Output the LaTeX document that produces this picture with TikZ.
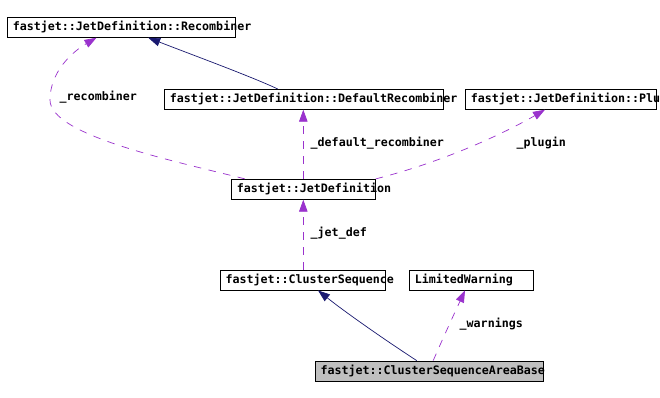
\documentclass[tikz,border=0pt]{standalone}
\usepackage{fontspec}
\setmonofont{DejaVu Sans Mono}
\usetikzlibrary{arrows.meta,calc}
\definecolor{inh}{HTML}{191970}
\definecolor{use}{HTML}{9A32CD}
\definecolor{boxgray}{HTML}{BFBFBF}
\begin{document}
\begin{tikzpicture}[x=1pt,y=-1pt,
  every node/.style={font=\fontsize{11.65}{13}\selectfont\ttfamily\bfseries},
  cls/.style={draw=black,line width=0.8pt,inner xsep=5.5pt,inner ysep=0pt,minimum height=20pt,anchor=center},
  lbl/.style={inner sep=0pt,anchor=west},
  inhedge/.style={draw=inh,line width=0.7pt,-{Triangle[length=12pt,width=8.5pt]}},
  useedge/.style={draw=use,line width=0.7pt,dash pattern=on 7.5pt off 7.5pt,-{Triangle[length=12pt,width=8.5pt]}}
]
\useasboundingbox[fill=white] (0,0) rectangle (660,398);
% classes
\node[cls] (rec) at (121.2,27.3) {\makebox[216.7pt][l]{fastjet::JetDefinition::Recombiner}};
\node[cls] (def) at (303.8,99.3) {\makebox[268pt][l]{fastjet::JetDefinition::DefaultRecombiner}};
\node[cls] (plu) at (561,99.3) {\makebox[180.4pt][l]{fastjet::JetDefinition::Plu}};
\node[cls] (jd) at (303.3,189.3) {\makebox[133pt][l]{fastjet::JetDefinition}};
\node[cls] (cs) at (302.7,280) {\makebox[154.3pt][l]{fastjet::ClusterSequence}};
\node[cls] (lw) at (471.3,280) {\makebox[113pt][l]{LimitedWarning}};
\node[cls,fill=boxgray] (csab) at (429.2,371) {\makebox[217.3pt][l]{fastjet::ClusterSequenceAreaBase}};
% edges
\draw[inhedge] ([xshift=113.7pt]def.north west) .. controls (250,76) and (190,54) .. ([xshift=27pt]rec.south);
\draw[useedge] ([xshift=14pt]jd.north west) .. controls (170,160) and (50,135) .. (50,100)
  .. controls (50,72) and (72,52) .. ([xshift=-24.7pt]rec.south);
\draw[useedge] (jd.north) -- (jd.north |- def.south);
\draw[useedge] (jd.north east) .. controls (450,160) and (510,130) .. ([xshift=-16pt]plu.south);
\draw[useedge] (cs.north -| jd.south) -- (jd.south);
\draw[inhedge] ([xshift=-12.5pt]csab.north) .. controls (385,340) and (345,312) .. ([xshift=15.3pt]cs.south);
\draw[useedge] ([xshift=4pt]csab.north) .. controls (443,338) and (455,312) .. ([xshift=-6.3pt]lw.south);
% labels
\node[lbl] (l1) at (59.5,97) {\_recombiner};
\node[lbl] (l2) at (310.5,142.7) {\_default\_recombiner};
\node[lbl] (l3) at (516.5,143.3) {\_plugin};
\node[lbl] (l4) at (310.5,232.7) {\_jet\_def};
\node[lbl] (l5) at (459.5,324) {\_warnings};
\end{tikzpicture}
\end{document}
